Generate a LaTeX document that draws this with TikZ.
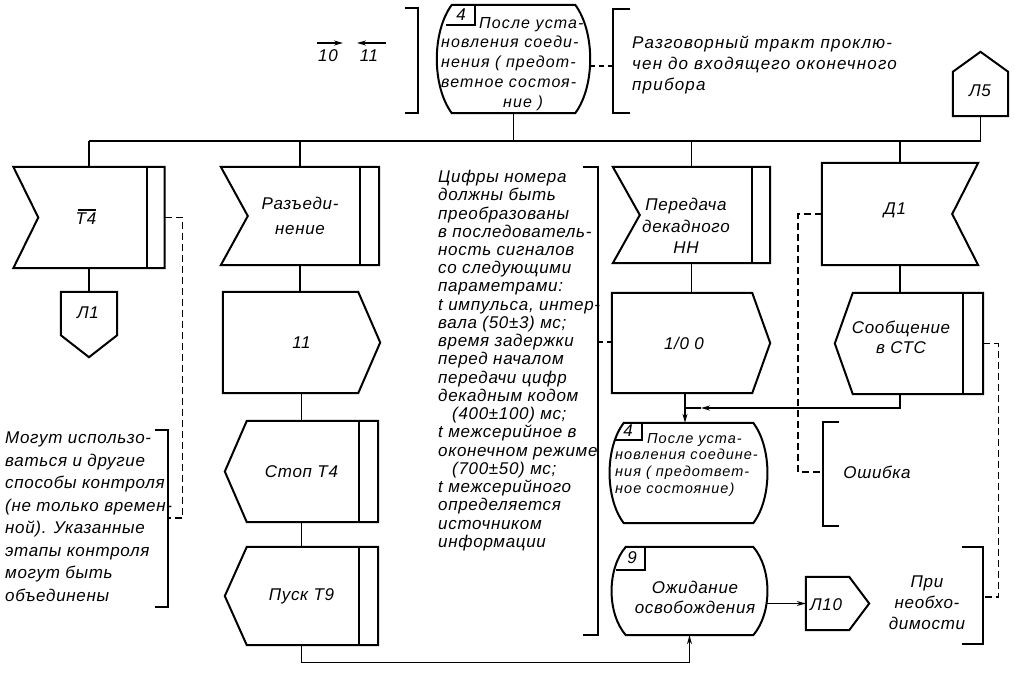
\documentclass[tikz,border=0pt]{standalone}
\usepackage{fontspec}
\setmainfont{Liberation Sans}[LetterSpace=4]
\usetikzlibrary{calc,arrows.meta}
\newcommand\gfont{\itshape\fontsize{17}{18.24}\selectfont}
\newcommand\shapeIn[2]{\draw[shp] (#1.north west) -- (#1.north east) -- (#1.south east) -- (#1.south west) -- ($(#1.west)+(#2,0)$) -- cycle;}
\newcommand\shapeOut[2]{\draw[shp] (#1.north west) -- ($(#1.north east)+(-#2,0)$) -- (#1.east) -- ($(#1.south east)+(-#2,0)$) -- (#1.south west) -- cycle;}
\newcommand\shapePL[2]{\draw[shp] ($(#1.north west)+(#2,0)$) -- (#1.north east) -- (#1.south east) -- ($(#1.south west)+(#2,0)$) -- (#1.west) -- cycle;}
\newcommand\shapeNR[2]{\draw[shp] (#1.north west) -- (#1.north east) -- ($(#1.east)+(-#2,0)$) -- (#1.south east) -- (#1.south west) -- cycle;}
\newcommand\shapeDown[2]{\draw[shp] (#1.north west) -- (#1.north east) -- ($(#1.south east)+(0,-#2)$) -- (#1.south) -- ($(#1.south west)+(0,-#2)$) -- cycle;}
\newcommand\shapeUp[2]{\draw[shp] ($(#1.north west)+(0,#2)$) -- (#1.north) -- ($(#1.north east)+(0,#2)$) -- (#1.south east) -- (#1.south west) -- cycle;}
\newcommand\innerR[2]{\draw[shp] ($(#1.north east)+(-#2,0)$) -- ($(#1.south east)+(-#2,0)$);}
\newcommand\shapeState[4]{\draw[shp] ($(#1.north west)+(#2,0)$) -- ($(#1.north east)+(-#2,0)$) .. controls +(#3,#4) and +(#3,-#4) .. ($(#1.south east)+(-#2,0)$) -- ($(#1.south west)+(#2,0)$) .. controls +(-#3,-#4) and +(-#3,#4) .. ($(#1.north west)+(#2,0)$) -- cycle;}
\begin{document}
\begin{tikzpicture}[x=1pt,y=-1pt,
  shp/.style={line width=2pt,line join=miter},
  con/.style={line width=1.4pt},
  dsh/.style={line width=1.4pt,dash pattern=on 7pt off 4pt},
  arr/.style={con,-{Stealth[length=9pt,width=5pt]}},
  hold/.style={inner sep=0pt,align=center},
  lbl/.style={inner sep=0pt,align=center},
  txt/.style={inner sep=0pt,align=left,anchor=north west},
  every node/.style={font=\gfont}]
\useasboundingbox (0,0) rectangle (1015,673);

% ---- top state
\node[hold,minimum width=153pt,minimum height=108pt] (s4a) at (513.5,59) {};
\shapeState{s4a}{15}{20}{27}
\draw[shp] ($(s4a.north west)+(38,0)$) -- ++(0,20) -- ++(-29,0);
\node[lbl] (s4anum) at (461,15) {4};
\node[txt,font=\gfont\fontsize{16}{19.7}\selectfont\addfontfeatures{LetterSpace=7}] (s4atxt) at (441,17) {\hspace*{38pt}После уста-\\новления соеди-\\нения ( предот-\\ветное состоя-\\\hspace*{62pt}ние )};

% left bracket with arrows
\draw[shp] (405,8) -- (418,8) -- (418,113) -- (405,113);
\coordinate (a1) at (317,43); \coordinate (a2) at (343,43);
\coordinate (b1) at (386,43); \coordinate (b2) at (357,43);
\draw[arr] (a1) -- (a2);
\draw[arr] (b1) -- (b2);
\node[lbl] (l10) at (328,56) {10};
\node[lbl] (l11) at (369,56) {11};

% right bracket
\draw[shp] (630,9) -- (613,9) -- (613,113) -- (630,113);
\coordinate (brT) at (613,66);
\draw[dsh,dash pattern=on 5pt off 4pt] (brT -| s4a.east) -- (brT);
\node[txt,font=\gfont\fontsize{17}{21}\selectfont\addfontfeatures{LetterSpace=7}] (ttop) at (632,36) {Разговорный тракт проклю-\\чен до входящего оконечного\\прибора};

% L5
\node[hold,minimum width=55pt,minimum height=64pt] (nL5) at (980.5,84) {};
\shapeUp{nL5}{20}
\node[lbl] (tL5) at (980,91) {Л5};

% bus
\coordinate (bus) at (0,141);
\draw[con] (s4a.south) -- (s4a.south |- bus);
\draw[con] (nL5.south) -- (nL5.south |- bus);

% ---- column 1
\node[hold,minimum width=151pt,minimum height=101pt] (nT4) at (89,217.5) {};
\shapeIn{nT4}{25}
\innerR{nT4}{18}
\node[lbl] (tT4) at (86,219) {T4};
\draw[line width=1.2pt] ($(tT4.north west)+(2,-3)$) -- ($(tT4.north east)+(0,-3)$);
\node[hold,minimum width=56pt,minimum height=65pt] (nL1) at (89,324.5) {};
\shapeDown{nL1}{22}
\node[lbl] (tL1) at (88,313) {Л1};
\draw[con] (nT4.south) -- (nL1.north);
\draw[shp] (155,430) -- (168,430) -- (168,607) -- (155,607);
\coordinate (brL) at (168,518);
\draw[dsh] (nT4.east) -- ++(18,0) |- (brL);
\node[txt,font=\gfont\fontsize{17}{22.5}\selectfont] (tleft) at (5,432) {Могут использо-\\ваться и другие\\способы контроля\\(не только времен-\\ной). Указанные\\этапы контроля\\могут быть\\объединены};

% ---- column 2
\node[hold,minimum width=158pt,minimum height=98pt,font=\gfont\fontsize{17}{25}\selectfont] (nRaz) at (300,216) {Разъеди-\\нение};
\shapeIn{nRaz}{27}
\innerR{nRaz}{19}
\node[hold,minimum width=157pt,minimum height=101pt] (n11) at (301.5,342.5) {11};
\shapeOut{n11}{22}
\node[hold,minimum width=153pt,minimum height=101pt] (nStop) at (301.5,471.5) {Стоп T4};
\shapePL{nStop}{22}
\innerR{nStop}{19}
\node[hold,minimum width=153pt,minimum height=98pt] (nPusk) at (301.5,596) {Пуск T9};
\shapePL{nPusk}{22}
\innerR{nPusk}{19}
\draw[con] (nRaz.south) -- (nRaz.south |- n11.north);
\draw[con] (n11.south) -- (n11.south |- nStop.north);
\draw[con] (nStop.south) -- (nStop.south |- nPusk.north);

% ---- middle text
\node[txt] (tmid) at (438,170) {Цифры номера\\должны быть\\преобразованы\\в последователь-\\ность сигналов\\со следующими\\параметрами:\\t импульса, интер-\\вала (50±3) мс;\\время задержки\\перед началом\\передачи цифр\\декадным кодом\\\hspace*{14pt}(400±100) мс;\\t межсерийное в\\оконечном режиме\\\hspace*{14pt}(700±50) мс;\\t межсерийного\\определяется\\источником\\информации};
\draw[shp] (583,167) -- (598,167) -- (598,635) -- (583,635);
\coordinate (brM) at (598,342);

% ---- column 4
\node[hold,minimum width=157pt,minimum height=96pt] (nPer) at (691.5,215) {};
\shapeIn{nPer}{27}
\innerR{nPer}{18}
\node[lbl,font=\gfont\fontsize{17}{21.5}\selectfont] (tPer) at (686,226) {Передача\\декадного\\НН};
\node[hold,minimum width=158pt,minimum height=100pt] (nIO) at (691,343) {};
\shapeOut{nIO}{18}
\node[lbl] (tIO) at (684,343) {1/0 0};
\draw[dsh,dash pattern=on 5pt off 4pt] (brM) -- (brM -| nIO.west);
\draw[con] (nPer.south) -- (nPer.south |- nIO.north);

\node[hold,minimum width=157pt,minimum height=100pt] (s4b) at (688.5,473) {};
\shapeState{s4b}{14}{19}{25}
\draw[shp] ($(s4b.north west)+(32,0)$) -- ++(0,17) -- ++(-28,0);
\node[lbl] (s4bnum) at (628,431) {4};
\node[txt,font=\gfont\fontsize{14.5}{16.7}\selectfont\addfontfeatures{LetterSpace=7}] (s4btxt) at (615,433) {\hspace*{32pt}После уста-\\новления соедине-\\ния ( предответ-\\ное состояние)};

\node[hold,minimum width=155pt,minimum height=88pt] (s9) at (689.5,591) {};
\shapeState{s9}{14}{19}{22}
\draw[shp] ($(s9.north west)+(33,0)$) -- ++(0,23) -- ++(-29,0);
\node[lbl] (s9num) at (632,558) {9};
\node[lbl,font=\gfont\fontsize{17}{20}\selectfont] (ts9) at (695,597) {Ожидание\\освобождения};

\node[hold,minimum width=63pt,minimum height=53pt] (nL10) at (837.5,603.5) {};
\shapeOut{nL10}{20}
\node[lbl] (tL10) at (826,605) {Л10};
\draw[arr] (nL10.west -| s9.east) -- (nL10.west);

% ---- column 5
\node[hold,minimum width=156pt,minimum height=102pt] (nD1) at (900,214) {};
\shapeNR{nD1}{26}
\node[lbl] (tD1) at (895,210) {Д1};
\node[hold,minimum width=148pt,minimum height=101pt] (nSoob) at (909,343.5) {};
\shapePL{nSoob}{18}
\innerR{nSoob}{20}
\node[lbl,font=\gfont\fontsize{17}{20}\selectfont] (tSoob) at (901,337) {Сообщение\\в СТС};
\draw[con] (nD1.south) -- (nD1.south |- nSoob.north);

\coordinate (jn) at (685,408);
\draw[con] (nIO.south -| jn) -- (jn);
\draw[arr] (jn) -- (jn |- s4b.north);
\draw[arr] (nSoob.south -| nD1.south) |- ($(jn)+(16,0)$);
\draw[con] ($(jn)+(16,0)$) -- (jn);

\draw[shp] (839,422) -- (823,422) -- (823,526) -- (839,526);
\coordinate (brE) at (823,472);
\draw[dsh] (nD1.west) -- ++(-24,0) |- (brE);
\node[lbl] (tErr) at (877,472) {Ошибка};

\draw[shp] (962,547) -- (983,547) -- (983,644) -- (962,644);
\coordinate (brP) at (983,597);
\draw[dsh] (nSoob.east) -- ++(15,0) |- (brP);
\node[lbl,font=\gfont\fontsize{17}{21}\selectfont] (tPri) at (927,603) {При\\необхо-\\димости};

% bus and drops
\draw[con] (nT4.north |- bus) -- (nL5.south |- bus);
\draw[con] (nT4.north |- bus) -- (nT4.north);
\draw[con] (nRaz.north |- bus) -- (nRaz.north);
\draw[con] (nPer.north |- bus) -- (nPer.north);
\draw[con] (nD1.north |- bus) -- (nD1.north);

% bottom loop
\draw[arr] (nPusk.south) |- ($(s9.south)+(0,27)$) -- (s9.south);
\end{tikzpicture}
\end{document}
